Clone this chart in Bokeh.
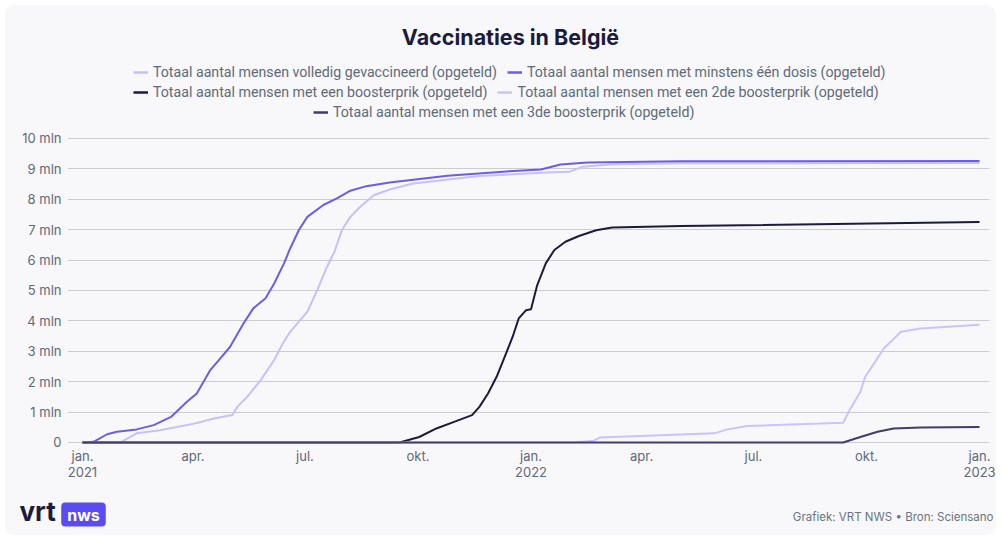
import pandas as pd
from bokeh.plotting import figure
from bokeh.layouts import column, row
from bokeh.models import (Range1d, FixedTicker, Legend, LegendItem, Label, ColumnDataSource)
from bokeh.embed import file_html
from bokeh.resources import INLINE

# ---------------- data ----------------
title_text = "Vaccinaties in België"

dosis_dates = ["2021-01-01", "2021-01-10", "2021-01-21", "2021-01-29", "2021-02-14", "2021-02-28",
               "2021-03-14", "2021-03-27", "2021-04-04", "2021-04-15", "2021-04-23", "2021-05-01",
               "2021-05-12", "2021-05-20", "2021-05-30", "2021-06-06", "2021-06-14", "2021-06-19",
               "2021-06-26", "2021-07-03", "2021-07-16", "2021-07-27", "2021-08-07", "2021-08-20",
               "2021-09-08", "2021-10-25", "2021-12-18", "2022-01-09", "2022-01-25", "2022-02-16",
               "2022-05-03", "2023-01-01"]
dosis_vals = [0, 0.02, 0.27, 0.35, 0.43, 0.57, 0.84, 1.34, 1.61, 2.38, 2.76, 3.14, 3.91, 4.41, 4.74,
              5.23, 5.89, 6.38, 6.98, 7.42, 7.81, 8.03, 8.28, 8.43, 8.55, 8.77, 8.93, 8.98, 9.14,
              9.21, 9.25, 9.26]

volledig_dates = ["2021-01-01", "2021-02-01", "2021-02-14", "2021-03-05", "2021-04-02", "2021-04-18",
                  "2021-05-03", "2021-05-07", "2021-05-15", "2021-05-26", "2021-06-06", "2021-06-13",
                  "2021-06-19", "2021-07-03", "2021-07-11", "2021-07-19", "2021-07-25", "2021-07-31",
                  "2021-08-07", "2021-08-15", "2021-08-26", "2021-09-08", "2021-09-27", "2021-11-20",
                  "2022-01-13", "2022-02-01", "2022-02-12", "2022-03-08", "2022-05-03", "2023-01-01"]
volledig_vals = [0, 0, 0.30, 0.40, 0.62, 0.79, 0.90, 1.17, 1.50, 2.05, 2.71, 3.26, 3.64, 4.30, 5.01,
                 5.78, 6.27, 6.98, 7.42, 7.75, 8.13, 8.32, 8.52, 8.76, 8.88, 8.90, 9.07, 9.15, 9.18,
                 9.19]

booster_dates = ["2021-01-01", "2021-09-16", "2021-10-02", "2021-10-16", "2021-11-01", "2021-11-14",
                 "2021-11-20", "2021-11-27", "2021-12-04", "2021-12-10", "2021-12-17", "2021-12-22",
                 "2021-12-28", "2022-01-01", "2022-01-06", "2022-01-13", "2022-01-20", "2022-01-29",
                 "2022-02-09", "2022-02-23", "2022-03-08", "2022-05-03", "2023-01-01"]
booster_vals = [0, 0, 0.18, 0.46, 0.70, 0.90, 1.17, 1.61, 2.16, 2.76, 3.47, 4.08, 4.35, 4.38, 5.17,
                5.89, 6.33, 6.60, 6.79, 6.98, 7.07, 7.12, 7.25]

booster2_dates = ["2021-01-01", "2022-02-05", "2022-02-21", "2022-02-26", "2022-04-16", "2022-05-30",
                  "2022-06-10", "2022-06-26", "2022-08-24", "2022-09-12", "2022-09-18", "2022-09-26",
                  "2022-09-30", "2022-10-08", "2022-10-15", "2022-10-22", "2022-10-29", "2022-11-14",
                  "2023-01-01"]
booster2_vals = [0, 0, 0.06, 0.16, 0.24, 0.30, 0.43, 0.54, 0.62, 0.65, 1.12, 1.66, 2.16, 2.65, 3.09,
                 3.36, 3.64, 3.75, 3.87]

booster3_dates = ["2021-01-01", "2022-09-12", "2022-09-26", "2022-10-10", "2022-10-23", "2022-11-14",
                  "2023-01-01"]
booster3_vals = [0, 0, 0.18, 0.35, 0.46, 0.49, 0.51]

series_labels = ["Totaal aantal mensen volledig gevaccineerd (opgeteld)",
                 "Totaal aantal mensen met minstens één dosis (opgeteld)",
                 "Totaal aantal mensen met een boosterprik (opgeteld)",
                 "Totaal aantal mensen met een 2de boosterprik (opgeteld)",
                 "Totaal aantal mensen met een 3de boosterprik (opgeteld)"]
series_colors = ["#C6C0FB", "#6C5DE6", "#1D1B3C", "#C9C4FF", "#403C6B"]

x_tick_dates = ["2021-01-01", "2021-04-01", "2021-07-01", "2021-10-01", "2022-01-01",
                "2022-04-01", "2022-07-01", "2022-10-01", "2023-01-01"]
x_tick_labels = ["jan.\n2021", "apr.", "jul.", "okt.", "jan.\n2022", "apr.", "jul.", "okt.", "jan.\n2023"]
y_ticks = [0, 1, 2, 3, 4, 5, 6, 7, 8, 9, 10]
y_tick_labels = ["0", "1 mln", "2 mln", "3 mln", "4 mln", "5 mln", "6 mln", "7 mln", "8 mln", "9 mln", "10 mln"]

source_text = "Grafiek: VRT NWS • Bron: Sciensano"

# ---------------- common ----------------
BG = "#F8F7F9"
CARD_L, CARD_R, CARD_T = 5, 996, 5     # card edges in page pixels
W = CARD_R - CARD_L
HEAD_B, MAIN_B, FOOT_B = 120, 490, 535  # bottom edge of each block in page pixels
all_dates = [volledig_dates, dosis_dates, booster_dates, booster2_dates, booster3_dates]
all_vals = [volledig_vals, dosis_vals, booster_vals, booster2_vals, booster3_vals]


def blank(top, bottom):
    # a text panel whose data coordinates equal page pixels
    f = figure(width=W, height=bottom - top, x_range=Range1d(CARD_L, CARD_R),
               y_range=Range1d(bottom, top), output_backend="svg", toolbar_location=None,
               x_axis_location=None, y_axis_location=None, min_border=0,
               background_fill_color=BG, border_fill_color=BG, outline_line_color=None)
    f.xgrid.visible = False
    f.ygrid.visible = False
    return f


# ---------------- header: title + legend ----------------
head = blank(CARD_T, HEAD_B)
head.add_layout(Label(x=510, y=36, text=title_text, text_align="center", text_baseline="middle",
                      text_font="Inter", text_font_style="bold", text_font_size="21.5px",
                      text_color="#1B1C3D"))
# legend entries reference the same series (they fall outside this panel's ranges)
proxies = []
for d, v, c in zip(all_dates, all_vals, series_colors):
    src = ColumnDataSource(dict(x=pd.to_datetime(d), y=v))
    proxies.append(head.line("x", "y", source=src, line_color=c, line_width=2.5))
rows = [([0, 1], 133, 40), ([2, 3], 133, 20), ([4], 313, 0)]
for idx, lx, vy in rows:
    lg = Legend(items=[LegendItem(label=series_labels[i], renderers=[proxies[i]]) for i in idx],
                orientation="horizontal", location=(lx - CARD_L, vy),
                background_fill_alpha=0, border_line_color=None,
                label_text_font="Roboto", label_text_font_size="14.2px", label_text_color="#5F6B7A",
                glyph_width=15, glyph_height=14, label_height=14, label_standoff=5,
                spacing=10, padding=3, margin=0)
    head.add_layout(lg, "center")

# ---------------- main chart ----------------
t0 = pd.Timestamp("2021-01-01")
x_start = t0 - pd.Timedelta(days=12.2)
x_end = t0 + pd.Timedelta(days=738.1)

p = figure(width=W, height=MAIN_B - HEAD_B, x_axis_type="datetime", output_backend="svg",
           toolbar_location=None, x_range=Range1d(x_start, x_end), y_range=Range1d(-0.1, 10.03),
           min_border_left=67 - CARD_L, min_border_right=CARD_R - 989, min_border_top=17,
           min_border_bottom=45,
           background_fill_color=BG, border_fill_color=BG, outline_line_color=None)

for d, v, c in zip(all_dates, all_vals, series_colors):
    src = ColumnDataSource(dict(x=pd.to_datetime(d), y=v))
    p.line("x", "y", source=src, line_color=c, line_width=2)

tick_ms = [pd.Timestamp(t).value // 10**6 for t in x_tick_dates]
p.xaxis.ticker = FixedTicker(ticks=tick_ms)
p.xaxis.major_label_overrides = {t: l for t, l in zip(tick_ms, x_tick_labels)}
p.yaxis.ticker = FixedTicker(ticks=y_ticks)
p.yaxis.major_label_overrides = {t: l for t, l in zip(y_ticks, y_tick_labels)}
for ax in (p.xaxis, p.yaxis):
    ax.axis_line_color = None
    ax.major_tick_line_color = None
    ax.minor_tick_line_color = None
    ax.major_tick_out = 0
    ax.major_tick_in = 0
    ax.minor_tick_out = 0
    ax.minor_tick_in = 0
    ax.major_label_text_font = "Inter"
    ax.major_label_text_font_size = "13px"
    ax.major_label_text_color = "#5E6A7B"
p.xaxis.major_label_standoff = 2
p.xaxis.major_label_text_line_height = 1.0
p.yaxis.major_label_standoff = 6

p.xgrid.grid_line_color = None
p.ygrid.ticker = FixedTicker(ticks=y_ticks)
p.ygrid.grid_line_color = "#CBCBD0"
p.ygrid.grid_line_width = 1

# ---------------- footer ----------------
foot = blank(MAIN_B, FOOT_B)
foot.add_layout(Label(x=993, y=516, text=source_text, text_align="right", text_baseline="middle",
                      text_font="Inter", text_font_size="11.5px", text_color="#6B7482"))
foot.add_layout(Label(x=19, y=511, text="vrt", text_align="left", text_baseline="middle",
                      text_font="Inter", text_font_style="bold", text_font_size="26px",
                      text_color="#1B1C3D"))
foot.add_layout(Label(x=83, y=514, text="nws", text_align="center", text_baseline="middle",
                      text_font="Inter", text_font_style="bold", text_font_size="16px",
                      text_line_height=1.0, text_color="white",
                      background_fill_color="#5B4CF0", border_radius=4,
                      padding=dict(left=6, right=6, top=2, bottom=2)))

layout = column(row(head), p, row(foot), spacing=0,
                margin=(CARD_T, 0, 0, CARD_L),
                styles={"background-color": BG, "border-radius": "10px", "overflow": "hidden"})
open("out.html", "w").write(file_html(layout, INLINE))
